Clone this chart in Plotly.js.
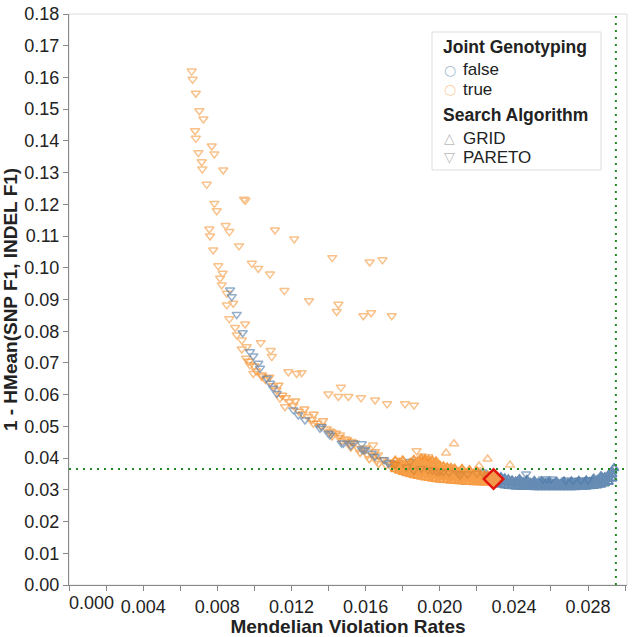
<!DOCTYPE html>
<html>
<head>
<meta charset="utf-8">
<script src="https://cdn.plot.ly/plotly-3.0.1.min.js"></script>
<style>
html,body{margin:0;padding:0;background:#fff;}
#chart{width:633px;height:637px;}
</style>
</head>
<body>
<div id="chart"></div>
<script>
// ---------- DATA ----------
const xTickVals = [0.004, 0.008, 0.012, 0.016, 0.020, 0.024, 0.028];
const xTickText = ["0.004", "0.008", "0.012", "0.016", "0.020", "0.024", "0.028"];
const xZeroLabel = "0.000";

// legend content
const legendTitles = ["Joint Genotyping", "Search Algorithm"];
const jointGenotypingLabels = ["false", "true"];
const searchAlgorithmLabels = ["GRID", "PARETO"];

// Joint Genotyping = true, Search Algorithm = PARETO (scattered points + upper curve)
const truePareto = [
[0.00662,0.1620],[0.00667,0.1594],[0.00684,0.1550],[0.00703,0.1495],[0.00725,0.1469],[0.00680,0.1432],
[0.00684,0.1408],[0.00770,0.1384],[0.00698,0.1363],[0.00784,0.1359],[0.00716,0.1334],[0.00719,0.1311],
[0.00832,0.1308],[0.00743,0.1263],[0.00944,0.1216],[0.00952,0.1213],[0.00784,0.1203],[0.00797,0.1180],
[0.00757,0.1122],[0.00845,0.1133],[0.00865,0.1114],[0.00761,0.1100],[0.01111,0.1119],[0.01215,0.1091],
[0.00917,0.1069],[0.00778,0.1056],[0.01420,0.1032],[0.01622,0.1018],[0.01691,0.1025],[0.00805,0.1006],
[0.00986,0.1014],[0.01021,0.0998],[0.00829,0.0983],[0.01084,0.0980],[0.00815,0.0967],[0.00824,0.0946],
[0.01162,0.0928],[0.00851,0.0920],[0.01295,0.0896],[0.01453,0.0885],[0.01444,0.0862],[0.01588,0.0849],
[0.01630,0.0858],[0.01741,0.0849],[0.00886,0.0888],[0.00851,0.0883],[0.00865,0.0839],[0.00950,0.0823],
[0.00896,0.0812],[0.00905,0.0788],[0.00932,0.0772],[0.01034,0.0764],[0.00959,0.0751],[0.00932,0.0744],
[0.01088,0.0739],[0.01094,0.0720],[0.00955,0.0715],[0.00976,0.0694],[0.00994,0.0667],[0.01183,0.0672],
[0.01228,0.0667],[0.01255,0.0669],[0.01040,0.0657],[0.01467,0.0623],[0.01399,0.0602],[0.01453,0.0594],
[0.01507,0.0594],[0.01575,0.0590],[0.01138,0.0589],[0.01165,0.0562],[0.01318,0.0510],[0.01525,0.0452],
[0.01462,0.0473],[0.01651,0.0583],[0.01716,0.0571],[0.01813,0.0571],[0.01861,0.0567],[0.01875,0.0423],
[0.01640,0.0441],[0.01667,0.0410],[0.01904,0.0407],[0.01937,0.0404]
];

// Joint Genotyping = true, PARETO, dense band along the front
const trueParetoBand = [
[0.0097,0.0705],[0.0100,0.0690],[0.0101,0.0675],[0.0104,0.0662],[0.0106,0.0648],[0.0108,0.0655],
[0.0110,0.0628],[0.0112,0.0615],[0.0113,0.0630],[0.0115,0.0598],[0.0117,0.0590],[0.0119,0.0578],
[0.0121,0.0566],[0.0122,0.0580],[0.0124,0.0548],[0.0126,0.0540],[0.0127,0.0555],[0.0129,0.0530],
[0.0131,0.0522],[0.0132,0.0538],[0.0134,0.0510],[0.0136,0.0502],[0.0137,0.0518],[0.0139,0.0492],
[0.0141,0.0485],[0.0142,0.0470],[0.0144,0.0478],[0.0146,0.0465],[0.0147,0.0455],[0.0149,0.0460],
[0.0151,0.0445],[0.0152,0.0435],[0.0154,0.0448],[0.0156,0.0430],[0.0157,0.0418],[0.0159,0.0425],
[0.0161,0.0410],[0.0162,0.0398],[0.0164,0.0405],[0.0166,0.0392],[0.0167,0.0383],[0.0169,0.0395],
[0.0171,0.0378],[0.0172,0.0388],[0.0174,0.0372],[0.0175,0.0382],[0.0142,0.0480],[0.0150,0.0458],
[0.0160,0.0432],[0.0165,0.0420]
];

// Joint Genotyping = true, GRID (dense cluster)
const trueGrid = [
[0.0176,0.0365],[0.0176,0.0378],[0.0176,0.0392],[0.0178,0.0360],[0.0178,0.0372],[0.0178,0.0386],
[0.0180,0.0356],[0.0180,0.0368],[0.0180,0.0381],[0.0180,0.0393],[0.0182,0.0352],[0.0182,0.0364],
[0.0182,0.0376],[0.0184,0.0349],[0.0184,0.0360],[0.0184,0.0372],[0.0184,0.0385],[0.0186,0.0346],
[0.0186,0.0357],[0.0186,0.0369],[0.0186,0.0382],[0.0186,0.0394],[0.0188,0.0344],[0.0188,0.0355],
[0.0188,0.0366],[0.0188,0.0378],[0.0188,0.0390],[0.0190,0.0341],[0.0190,0.0352],[0.0190,0.0363],
[0.0190,0.0375],[0.0190,0.0387],[0.0190,0.0398],[0.0192,0.0339],[0.0192,0.0350],[0.0192,0.0361],
[0.0192,0.0373],[0.0192,0.0385],[0.0192,0.0396],[0.0194,0.0337],[0.0194,0.0348],[0.0194,0.0359],
[0.0194,0.0371],[0.0194,0.0383],[0.0194,0.0394],[0.0196,0.0335],[0.0196,0.0346],[0.0196,0.0357],
[0.0196,0.0369],[0.0196,0.0381],[0.0196,0.0392],[0.0198,0.0333],[0.0198,0.0344],[0.0198,0.0355],
[0.0198,0.0367],[0.0198,0.0380],[0.0198,0.0390],[0.0200,0.0332],[0.0200,0.0342],[0.0200,0.0353],
[0.0200,0.0365],[0.0200,0.0377],[0.0202,0.0331],[0.0202,0.0341],[0.0202,0.0351],[0.0202,0.0362],
[0.0202,0.0374],[0.0204,0.0330],[0.0204,0.0340],[0.0204,0.0350],[0.0204,0.0360],[0.0204,0.0371],
[0.0206,0.0329],[0.0206,0.0339],[0.0206,0.0349],[0.0206,0.0359],[0.0206,0.0369],[0.0208,0.0328],
[0.0208,0.0337],[0.0208,0.0347],[0.0208,0.0357],[0.0208,0.0367],[0.0210,0.0327],[0.0210,0.0336],
[0.0210,0.0346],[0.0210,0.0356],[0.0212,0.0326],[0.0212,0.0335],[0.0212,0.0345],[0.0212,0.0355],
[0.0212,0.0366],[0.0214,0.0325],[0.0214,0.0334],[0.0214,0.0343],[0.0214,0.0353],[0.0216,0.0325],
[0.0216,0.0333],[0.0216,0.0342],[0.0216,0.0352],[0.0216,0.0362],[0.0218,0.0324],[0.0218,0.0332],
[0.0218,0.0341],[0.0218,0.0350],[0.0220,0.0324],[0.0220,0.0332],[0.0220,0.0340],[0.0220,0.0349],
[0.0220,0.0358],[0.0222,0.0323],[0.0222,0.0331],[0.0222,0.0339],[0.0222,0.0348],[0.0224,0.0323],
[0.0224,0.0330],[0.0224,0.0338],[0.0224,0.0346],[0.0226,0.0323],[0.0226,0.0330],[0.0226,0.0337],
[0.0226,0.0345],[0.0228,0.0322],[0.0228,0.0329],[0.0228,0.0336],[0.0230,0.0322],[0.0230,0.0328],
[0.0230,0.0335]
];
const trueGridSparse = [
[0.02077,0.0445],[0.02034,0.0416],[0.02258,0.0397],[0.02379,0.0378],[0.02212,0.0375]
];

// Joint Genotyping = false, PARETO (points along the curve)
const falsePareto = [
[0.00869,0.0930],[0.00878,0.0909],[0.00905,0.0853],[0.00937,0.0795],[0.00976,0.0735],[0.00994,0.0722],
[0.01021,0.0699],[0.01030,0.0683],[0.01067,0.0652],[0.01084,0.0636],[0.01102,0.0620],[0.01121,0.0604],
[0.01210,0.0552],[0.01237,0.0536],[0.01273,0.0520],[0.01354,0.0494],[0.01363,0.0499],[0.01399,0.0478],
[0.01408,0.0473],[0.01471,0.0447],[0.01480,0.0447],[0.01579,0.0445],[0.01597,0.0426],[0.01633,0.0415],
[0.01723,0.0384],[0.01840,0.0389],[0.01938,0.0363],[0.01984,0.0357],[0.02019,0.0357],[0.01532,0.0448],
[0.01586,0.0426],[0.01732,0.0385],[0.02110,0.0347],[0.02230,0.0356],
[0.0152,0.0440],[0.0158,0.0428],[0.0165,0.0405],[0.0170,0.0395],[0.0176,0.0380],[0.0182,0.0372],
[0.0186,0.0362],[0.0190,0.0367],[0.0196,0.0362],[0.0200,0.0358],[0.0205,0.0355],[0.0210,0.0352],
[0.0215,0.0350],[0.0220,0.0352],[0.0226,0.0348],
[0.02233,0.0353],[0.02466,0.0350],[0.02557,0.0334],[0.02580,0.0334],[0.02600,0.0334],
[0.0268,0.0331],[0.0272,0.0330],[0.0276,0.0331],[0.0280,0.0332]
];

// Joint Genotyping = false, GRID (dense cluster at the right)
const falseGrid = [
[0.0231,0.0320],[0.0231,0.0333],[0.0233,0.0316],[0.0233,0.0328],[0.0233,0.0340],[0.0235,0.0314],
[0.0235,0.0325],[0.0235,0.0336],[0.0237,0.0312],[0.0237,0.0322],[0.0237,0.0333],[0.0239,0.0311],
[0.0239,0.0320],[0.0239,0.0330],[0.0241,0.0310],[0.0241,0.0318],[0.0241,0.0327],[0.0243,0.0310],
[0.0243,0.0317],[0.0243,0.0325],[0.0243,0.0334],[0.0245,0.0309],[0.0245,0.0316],[0.0245,0.0324],
[0.0247,0.0309],[0.0247,0.0316],[0.0247,0.0323],[0.0247,0.0331],[0.0249,0.0309],[0.0249,0.0315],
[0.0249,0.0322],[0.0251,0.0308],[0.0251,0.0315],[0.0251,0.0322],[0.0251,0.0328],[0.0253,0.0308],
[0.0253,0.0314],[0.0253,0.0321],[0.0255,0.0308],[0.0255,0.0314],[0.0255,0.0320],[0.0255,0.0327],
[0.0257,0.0308],[0.0257,0.0314],[0.0257,0.0320],[0.0259,0.0308],[0.0259,0.0313],[0.0259,0.0319],
[0.0259,0.0326],[0.0261,0.0308],[0.0261,0.0313],[0.0261,0.0319],[0.0263,0.0308],[0.0263,0.0313],
[0.0263,0.0319],[0.0263,0.0326],[0.0265,0.0308],[0.0265,0.0313],[0.0265,0.0319],[0.0267,0.0308],
[0.0267,0.0314],[0.0267,0.0320],[0.0267,0.0327],[0.0269,0.0308],[0.0269,0.0314],[0.0269,0.0320],
[0.0271,0.0308],[0.0271,0.0314],[0.0271,0.0320],[0.0271,0.0327],[0.0273,0.0308],[0.0273,0.0314],
[0.0273,0.0321],[0.0275,0.0309],[0.0275,0.0315],[0.0275,0.0321],[0.0275,0.0328],[0.0277,0.0309],
[0.0277,0.0315],[0.0277,0.0322],[0.0279,0.0310],[0.0279,0.0316],[0.0279,0.0323],[0.0279,0.0330],
[0.0281,0.0311],[0.0281,0.0318],[0.0281,0.0325],[0.0283,0.0312],[0.0283,0.0320],[0.0283,0.0328],
[0.0283,0.0335],[0.0285,0.0314],[0.0285,0.0322],[0.0285,0.0331],[0.0287,0.0316],[0.0287,0.0325],
[0.0287,0.0335],[0.0287,0.0343],[0.0289,0.0320],[0.0289,0.0330],[0.0289,0.0340],[0.0291,0.0325],
[0.0291,0.0336],[0.0291,0.0347],[0.0293,0.0335],[0.0293,0.0348],[0.0293,0.0358],[0.0294,0.0368]
];

// Selected configuration (red diamond)
const selectedPoint = [[0.0229, 0.0334]];
// Dotted reference lines
const refLineX = [0.0295];
const refLineY = [0.0366];

// ---------- STYLE ----------
const BLUE = '#4c78a8', ORANGE = '#f58518', GREY = '#888888';
const FONT = 'Liberation Sans, Arial, sans-serif';
const xs = a => a.map(p => p[0]);
const ys = a => a.map(p => p[1]);

function pts(arr, color, symbol, op, lw) {
  return {
    type: 'scatter', mode: 'markers', x: xs(arr), y: ys(arr),
    showlegend: false, hoverinfo: 'skip', opacity: op,
    marker: {symbol: symbol, color: color, size: 8, line: {width: lw || 1.5, color: color}}
  };
}

const traces = [
  pts(truePareto, ORANGE, 'triangle-down-open', 0.5),
  pts(trueParetoBand, ORANGE, 'triangle-down-open', 0.6),
  pts(falsePareto, BLUE, 'triangle-down-open', 0.6),
  pts(trueGrid, ORANGE, 'triangle-up-open', 0.8, 2),
  pts(trueGridSparse, ORANGE, 'triangle-up-open', 0.5),
  pts(falseGrid, BLUE, 'triangle-up-open', 0.85, 2),
  {
    type: 'scatter', mode: 'markers', x: xs(selectedPoint), y: ys(selectedPoint),
    showlegend: false, hoverinfo: 'skip',
    marker: {symbol: 'diamond', size: 15, color: '#f39a4a', line: {color: '#e3150f', width: 2.5}}
  }
];

// manual legend (paper coordinates derived from pixel layout of plot area)
const PL = 69, PW = 558, PB = 585, PH = 571;
const px = v => (v - PL) / PW;
const py = v => (PB - v) / PH;
const legFont = {size: 17, color: '#222', family: FONT};
const titleFont = {size: 17.5, color: '#222', family: FONT, weight: 'bold'};
function txt(x, y, t, f) {
  return {xref: 'paper', yref: 'paper', x: px(x), y: py(y), text: t, showarrow: false,
          xanchor: 'left', yanchor: 'middle', font: f};
}
function sym(x, y, g, c) {
  return {xref: 'paper', yref: 'paper', x: px(x), y: py(y), text: g, showarrow: false,
          xanchor: 'center', yanchor: 'middle', font: {size: 14, color: c, family: 'DejaVu Sans'}};
}
const annotations = [
  {xref: 'x', yref: 'paper', x: 0, y: 0, text: xZeroLabel, showarrow: false,
   xanchor: 'left', yanchor: 'top', yshift: -6, xshift: -2, font: {size: 18, color: '#222'}},
  txt(441, 47, legendTitles[0], titleFont),
  sym(450, 70, '○', 'rgba(76,120,168,0.55)'),
  txt(461, 70, jointGenotypingLabels[0], legFont),
  sym(450, 89, '○', 'rgba(245,133,24,0.45)'),
  txt(461, 89, jointGenotypingLabels[1], legFont),
  txt(441, 115, legendTitles[1], titleFont),
  sym(450, 138, '△', 'rgba(136,136,136,0.6)'),
  txt(461, 138, searchAlgorithmLabels[0], legFont),
  sym(450, 157, '▽', 'rgba(136,136,136,0.6)'),
  txt(461, 157, searchAlgorithmLabels[1], legFont)
];

const layout = {
  width: 633, height: 637,
  margin: {l: 69, r: 6, t: 14, b: 52},
  paper_bgcolor: '#fff', plot_bgcolor: '#fff',
  font: {family: FONT, size: 17, color: '#222'},
  showlegend: false,
  xaxis: {
    range: [0, 0.0301], showgrid: false, zeroline: false,
    showline: true, linecolor: GREY, linewidth: 1,
    tickmode: 'array', tickvals: xTickVals, ticktext: xTickText,
    ticks: 'outside', ticklen: 5, tickcolor: GREY,
    minor: {dtick: 0.002, tick0: 0, ticks: 'outside', ticklen: 5, tickcolor: GREY},
    tickfont: {size: 18, color: '#222'},
    title: {text: 'Mendelian Violation Rates', font: {size: 19, weight: 'bold', color: '#222'}, standoff: 4}
  },
  yaxis: {
    range: [0, 0.18], showgrid: false, zeroline: false,
    showline: true, linecolor: GREY, linewidth: 1,
    dtick: 0.01, tick0: 0, tickformat: '.2f',
    ticks: 'outside', ticklen: 5, tickcolor: GREY,
    tickfont: {size: 18, color: '#222'},
    title: {text: '1 - HMean(SNP F1, INDEL F1)', font: {size: 19, weight: 'bold', color: '#222'}, standoff: 4}
  },
  shapes: [
    {type: 'rect', xref: 'paper', yref: 'paper', x0: 0, x1: 1, y0: 0, y1: 1,
     line: {color: '#dddddd', width: 1}, layer: 'below'},
    {type: 'line', xref: 'paper', yref: 'y', x0: 0, x1: 1, y0: refLineY[0], y1: refLineY[0],
     line: {color: '#228b22', width: 2, dash: '2px,5px'}},
    {type: 'line', xref: 'x', yref: 'paper', x0: refLineX[0], x1: refLineX[0], y0: 0, y1: 1,
     line: {color: '#228b22', width: 2, dash: '2px,5px'}},
    {type: 'rect', xref: 'paper', yref: 'paper', x0: px(432), x1: px(601), y0: py(170), y1: py(32),
     line: {color: '#dddddd', width: 1}, fillcolor: '#ffffff', layer: 'above'}
  ],
  annotations: annotations
};

Plotly.newPlot('chart', traces, layout, {staticPlot: true, displayModeBar: false});
</script>
</body>
</html>
